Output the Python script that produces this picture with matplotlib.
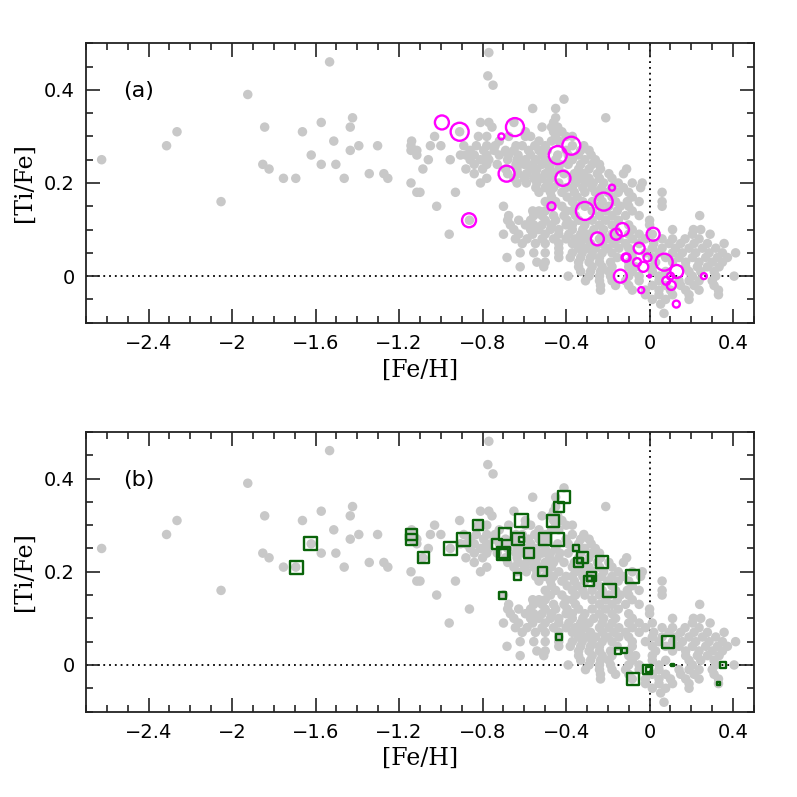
import matplotlib
matplotlib.use("Agg")
import matplotlib.pyplot as plt
from matplotlib.ticker import MultipleLocator, FuncFormatter

# ---------------- comparison sample (grey dots): ([Fe/H], [Ti/Fe]) ----------------
gray_halo = [
    (-2.625, 0.25), (-2.314, 0.28), (-2.264, 0.31), (-2.053, 0.16), (-1.925, 0.39),
    (-1.844, 0.32), (-1.853, 0.24), (-1.823, 0.23), (-1.754, 0.21), (-1.695, 0.21),
    (-1.663, 0.31), (-1.621, 0.26), (-1.573, 0.33), (-1.573, 0.24), (-1.533, 0.46),
    (-1.513, 0.29), (-1.503, 0.24), (-1.463, 0.21), (-1.434, 0.32), (-1.423, 0.34),
    (-1.434, 0.27), (-1.393, 0.28), (-1.343, 0.22), (-1.303, 0.28), (-1.273, 0.22),
    (-1.254, 0.21), (-1.143, 0.28), (-1.143, 0.27), (-1.115, 0.27), (-1.115, 0.26),
    (-1.143, 0.20), (-1.115, 0.18), (-1.100, 0.18), (-1.086, 0.23),
]

gray_disk = [
    (-0.77, 0.48), (-0.775, 0.43), (-0.75, 0.41), (-0.41, 0.38),
    (-0.56, 0.36), (-0.45, 0.36), (-0.45, 0.34), (-0.21, 0.34),
    (-0.81, 0.33), (-0.77, 0.33), (-0.65, 0.33), (-0.46, 0.33),
    (-0.755, 0.32), (-0.515, 0.32), (-0.47, 0.32), (-0.44, 0.32),
    (-0.91, 0.31), (-0.595, 0.31), (-0.46, 0.31), (-0.42, 0.31),
    (-1.03, 0.30), (-0.82, 0.30), (-0.78, 0.30), (-0.675, 0.30), (-0.595, 0.30),
    (-0.57, 0.30), (-0.45, 0.30), (-0.40, 0.30), (-0.37, 0.30),
    (-1.14, 0.29), (-0.72, 0.29), (-0.53, 0.29), (-0.47, 0.29), (-0.435, 0.29),
    (-1.05, 0.28), (-1.00, 0.28), (-0.89, 0.28), (-0.83, 0.28), (-0.78, 0.28),
    (-0.74, 0.28), (-0.64, 0.28), (-0.61, 0.28), (-0.55, 0.28), (-0.50, 0.28),
    (-0.37, 0.28), (-0.315, 0.28),
    (-0.86, 0.27), (-0.795, 0.27), (-0.745, 0.27), (-0.69, 0.27), (-0.65, 0.27),
    (-0.58, 0.27), (-0.53, 0.27), (-0.49, 0.27), (-0.40, 0.27), (-0.33, 0.27),
    (-0.29, 0.27),
    (-0.906, 0.26), (-0.88, 0.26), (-0.84, 0.26), (-0.78, 0.26), (-0.72, 0.26),
    (-0.675, 0.26), (-0.63, 0.26), (-0.57, 0.26), (-0.515, 0.26), (-0.44, 0.26),
    (-0.39, 0.26), (-0.34, 0.26), (-0.28, 0.26),
    (-1.06, 0.25), (-0.955, 0.25), (-0.86, 0.25), (-0.81, 0.25), (-0.77, 0.25),
    (-0.68, 0.25), (-0.635, 0.25), (-0.595, 0.25), (-0.545, 0.25), (-0.50, 0.25),
    (-0.45, 0.25), (-0.37, 0.25), (-0.31, 0.25), (-0.26, 0.25),
    (-0.84, 0.24), (-0.78, 0.24), (-0.73, 0.24), (-0.64, 0.24), (-0.60, 0.24),
    (-0.56, 0.24), (-0.515, 0.24), (-0.475, 0.24), (-0.43, 0.24), (-0.39, 0.24),
    (-0.33, 0.24), (-0.275, 0.24), (-0.24, 0.24),
    (-0.88, 0.23), (-0.80, 0.23), (-0.69, 0.23), (-0.635, 0.23), (-0.57, 0.23),
    (-0.54, 0.23), (-0.48, 0.23), (-0.435, 0.23), (-0.34, 0.23), (-0.29, 0.23),
    (-0.235, 0.23), (-0.11, 0.23),
    (-0.84, 0.22), (-0.68, 0.22), (-0.63, 0.22), (-0.59, 0.22), (-0.545, 0.22),
    (-0.50, 0.22), (-0.46, 0.22), (-0.41, 0.22), (-0.36, 0.22), (-0.315, 0.22),
    (-0.25, 0.22), (-0.195, 0.22), (-0.125, 0.22),
    (-0.78, 0.21), (-0.65, 0.21), (-0.60, 0.21), (-0.555, 0.21), (-0.515, 0.21),
    (-0.47, 0.21), (-0.37, 0.21), (-0.33, 0.21), (-0.29, 0.21), (-0.24, 0.21),
    (-0.18, 0.21),
    (-0.81, 0.20), (-0.635, 0.20), (-0.59, 0.20), (-0.54, 0.20), (-0.49, 0.20),
    (-0.435, 0.20), (-0.355, 0.20), (-0.31, 0.20), (-0.27, 0.20), (-0.22, 0.20),
    (-0.15, 0.20), (-0.083, 0.20), (-0.035, 0.20),
    (-0.545, 0.19), (-0.50, 0.19), (-0.46, 0.19), (-0.40, 0.19), (-0.37, 0.19),
    (-0.32, 0.19), (-0.275, 0.19), (-0.23, 0.19), (-0.18, 0.19), (-0.125, 0.19),
    (-0.043, 0.19),
    (-0.93, 0.18), (-0.53, 0.18), (-0.475, 0.18), (-0.42, 0.18), (-0.36, 0.18),
    (-0.31, 0.18), (-0.26, 0.18), (-0.20, 0.18), (-0.15, 0.18), (-0.10, 0.18),
    (0.06, 0.18),
    (-0.47, 0.17), (-0.395, 0.17), (-0.347, 0.17), (-0.24, 0.17), (-0.18, 0.17),
    (-0.083, 0.17),
    (-0.50, 0.16), (-0.45, 0.16), (-0.37, 0.16), (-0.32, 0.16), (-0.275, 0.16),
    (-0.227, 0.16), (-0.163, 0.16), (-0.107, 0.16), (-0.05, 0.16), (0.06, 0.16),
    (-1.02, 0.15), (-0.70, 0.15), (-0.475, 0.15), (-0.42, 0.15), (-0.355, 0.15),
    (-0.31, 0.15), (-0.24, 0.15), (-0.195, 0.15), (-0.14, 0.15), (-0.10, 0.15),
    (0.06, 0.15),
    (-0.56, 0.14), (-0.53, 0.14), (-0.50, 0.14), (-0.40, 0.14), (-0.37, 0.14),
    (-0.275, 0.14), (-0.21, 0.14), (-0.155, 0.14), (-0.083, 0.14),
    (-0.675, 0.13), (-0.555, 0.13), (-0.515, 0.13), (-0.46, 0.13), (-0.41, 0.13),
    (-0.355, 0.13), (-0.24, 0.13), (-0.18, 0.13), (-0.115, 0.13), (-0.05, 0.13),
    (0.24, 0.13),
    (-0.863, 0.12), (-0.68, 0.12), (-0.627, 0.12), (-0.57, 0.12), (-0.50, 0.12),
    (-0.45, 0.12), (-0.395, 0.12), (-0.34, 0.12), (-0.275, 0.12), (-0.21, 0.12),
    (-0.15, 0.12), (0.00, 0.12),
    (-0.667, 0.11), (-0.595, 0.11), (-0.555, 0.11), (-0.515, 0.11), (-0.47, 0.11),
    (-0.40, 0.11), (-0.37, 0.11), (-0.31, 0.11), (-0.24, 0.11), (-0.18, 0.11),
    (-0.10, 0.11), (0.00, 0.11),
    (-0.65, 0.10), (-0.57, 0.10), (-0.53, 0.10), (-0.475, 0.10), (-0.435, 0.10),
    (-0.37, 0.10), (-0.32, 0.10), (-0.267, 0.10), (-0.22, 0.10), (-0.163, 0.10),
    (-0.083, 0.10), (0.11, 0.10), (0.21, 0.10), (0.245, 0.10),
    (-0.96, 0.09), (-0.70, 0.09), (-0.627, 0.09), (-0.56, 0.09), (-0.50, 0.09),
    (-0.435, 0.09), (-0.387, 0.09), (-0.33, 0.09), (-0.29, 0.09), (-0.227, 0.09),
    (-0.18, 0.09), (-0.10, 0.09), (-0.05, 0.09), (0.013, 0.09), (0.205, 0.09),
    (0.29, 0.09),
    (-0.643, 0.08), (-0.587, 0.08), (-0.515, 0.08), (-0.46, 0.08), (-0.40, 0.08),
    (-0.355, 0.08), (-0.31, 0.08), (-0.24, 0.08), (-0.195, 0.08), (-0.147, 0.08),
    (-0.083, 0.08), (-0.02, 0.08), (0.06, 0.08), (0.11, 0.08), (0.17, 0.08),
    (0.237, 0.08),
    (-0.61, 0.07), (-0.547, 0.07), (-0.50, 0.07), (-0.435, 0.07), (-0.37, 0.07),
    (-0.33, 0.07), (-0.283, 0.07), (-0.227, 0.07), (-0.171, 0.07), (-0.115, 0.07),
    (-0.05, 0.07), (0.02, 0.07), (0.093, 0.07), (0.149, 0.07), (0.213, 0.07),
    (0.277, 0.07), (0.357, 0.07),
    (-0.435, 0.06), (-0.34, 0.06), (-0.30, 0.06), (-0.26, 0.06), (-0.203, 0.06),
    (-0.147, 0.06), (-0.10, 0.06), (0.013, 0.06), (0.06, 0.06), (0.125, 0.06),
    (0.189, 0.06), (0.253, 0.06), (0.317, 0.06),
    (-0.62, 0.05), (-0.555, 0.05), (-0.50, 0.05), (-0.435, 0.05), (-0.37, 0.05),
    (-0.323, 0.05), (-0.275, 0.05), (-0.227, 0.05), (-0.18, 0.05), (-0.083, 0.05),
    (-0.02, 0.05), (0.045, 0.05), (0.11, 0.05), (0.157, 0.05), (0.221, 0.05),
    (0.285, 0.05), (0.349, 0.05), (0.412, 0.05),
    (-0.683, 0.04), (-0.435, 0.04), (-0.38, 0.04), (-0.33, 0.04), (-0.283, 0.04),
    (-0.24, 0.04), (-0.155, 0.04), (-0.083, 0.04), (0.013, 0.04), (0.077, 0.04),
    (0.141, 0.04), (0.205, 0.04), (0.269, 0.04), (0.325, 0.04), (0.373, 0.04),
    (-0.54, 0.03), (-0.50, 0.03), (-0.34, 0.03), (-0.29, 0.03), (-0.24, 0.03),
    (-0.187, 0.03), (-0.10, 0.03), (0.029, 0.03), (0.11, 0.03), (0.173, 0.03),
    (0.237, 0.03), (0.30, 0.03), (0.349, 0.03),
    (-0.62, 0.02), (-0.507, 0.02), (-0.34, 0.02), (-0.275, 0.02), (-0.227, 0.02),
    (-0.18, 0.02), (-0.10, 0.02), (-0.067, 0.02), (0.013, 0.02), (0.173, 0.02),
    (0.229, 0.02), (0.277, 0.02), (0.333, 0.02),
    (-0.33, 0.01), (-0.283, 0.01), (-0.235, 0.01), (-0.195, 0.01), (-0.083, 0.01),
    (0.013, 0.01), (0.077, 0.01), (0.189, 0.01), (0.245, 0.01), (0.309, 0.01),
    (-0.39, 0.00), (-0.29, 0.00), (-0.24, 0.00), (-0.187, 0.00), (-0.10, 0.00),
    (-0.05, 0.00), (0.045, 0.00), (0.205, 0.00), (0.317, 0.00), (0.405, 0.00),
    (-0.307, -0.01), (-0.24, -0.01), (-0.18, -0.01), (-0.115, -0.01), (-0.05, -0.01),
    (0.045, -0.01), (0.141, -0.01), (0.189, -0.01), (0.237, -0.01), (0.30, -0.01),
    (-0.235, -0.02), (-0.163, -0.02), (-0.10, -0.02), (0.013, -0.02), (0.077, -0.02),
    (0.149, -0.02), (0.213, -0.02), (0.309, -0.02),
    (-0.235, -0.03), (-0.083, -0.03), (-0.02, -0.03), (0.045, -0.03), (0.10, -0.03),
    (0.173, -0.03), (0.237, -0.03), (0.33, -0.03),
    (-0.02, -0.04), (0.045, -0.04), (0.11, -0.04), (0.189, -0.04), (0.33, -0.04),
    (0.013, -0.05), (0.077, -0.05), (0.189, -0.05),
    (0.053, -0.06), (0.069, -0.08),
]

# ---------------- programme stars, panel (a): open circles ----------------
mag_feh = [-0.995, -0.91, -0.645, -0.71, -0.44, -0.375, -0.685, -0.415, -0.18,
           -0.47, -0.31, -0.22, -0.865, -0.13, -0.16, -0.25, 0.017, -0.05,
           -0.11, -0.115, -0.01, -0.06, -0.03, 0.07, 0.13, -0.14, 0.0, 0.26,
           0.08, 0.10, 0.104, -0.04, 0.128]
mag_tife = [0.33, 0.31, 0.32, 0.30, 0.26, 0.28, 0.22, 0.21, 0.19,
            0.15, 0.14, 0.16, 0.12, 0.10, 0.09, 0.08, 0.09, 0.06,
            0.04, 0.04, 0.04, 0.03, 0.02, 0.03, 0.01, 0.00, 0.00, 0.00,
            -0.01, 0.00, -0.02, -0.03, -0.06]
mag_weight = [14, 18, 18, 6, 18, 18, 16, 15, 6,
              8, 18, 18, 14, 13, 11, 13, 13, 11,
              8, 8, 8, 8, 10, 17, 13, 13, 2.7, 6,
              8, 7, 9, 6, 7]

# ---------------- programme stars, panel (b): open squares ----------------
grn_feh = [-1.623, -1.693, -1.142, -1.142, -1.083, -0.953, -0.891, -0.823,
           -0.732, -0.691, -0.70, -0.70, -0.704, -0.635, -0.411, -0.432,
           -0.613, -0.462, -0.632, -0.614, -0.50, -0.443, -0.58, -0.352,
           -0.32, -0.34, -0.335, -0.23, -0.512, -0.278, -0.291, -0.288,
           -0.08, -0.19, -0.432, 0.09, -0.15, -0.122, -0.008, -0.003,
           -0.08, 0.11, 0.35, 0.33]
grn_tife = [0.26, 0.21, 0.28, 0.27, 0.23, 0.25, 0.27, 0.30,
            0.26, 0.28, 0.24, 0.24, 0.15, 0.19, 0.36, 0.34,
            0.31, 0.31, 0.27, 0.27, 0.27, 0.27, 0.24, 0.25,
            0.23, 0.22, 0.225, 0.22, 0.20, 0.19, 0.18, 0.185,
            0.19, 0.16, 0.06, 0.05, 0.03, 0.03, -0.01, -0.01,
            -0.03, 0.00, 0.00, -0.04]
grn_weight = [13, 13, 11, 11, 11, 13, 13, 10,
              10, 12, 13, 9, 7, 7, 12, 10,
              13, 12, 12, 5, 12, 13, 10, 6,
              11, 9, 5, 12, 9, 9, 10, 5,
              13, 13, 6, 12, 6, 5, 9, 5,
              12, 2.5, 6, 2.5]

xticks = [-2.4, -2.0, -1.6, -1.2, -0.8, -0.4, 0.0, 0.4]
yticks = [0.0, 0.2, 0.4]

# ---------------- drawing ----------------
GRAY = "#c8c8c8"
MAG = "#ff00ff"
GRN = "#0a640a"
PX2PT = 72.0 / 100.0

fig = plt.figure(figsize=(7.97, 7.97), dpi=100)
ax_a = fig.add_axes([0.1079, 0.5951, 0.8381, 0.3506])
ax_b = fig.add_axes([0.1079, 0.1072, 0.8381, 0.3508])

gx = [p[0] for p in gray_halo + gray_disk]
gy = [p[1] for p in gray_halo + gray_disk]


def fmt(v, pos):
    s = "%g" % v
    if s == "-0":
        s = "0"
    return s.replace("-", "\u2212")


for ax, label in ((ax_a, "(a)"), (ax_b, "(b)")):
    ax.set_xlim(-2.7, 0.5)
    ax.set_ylim(-0.1, 0.5)
    ax.axhline(0, color="black", lw=1.3, ls=(0, (1, 2.2)), zorder=1)
    ax.axvline(0, color="black", lw=1.3, ls=(0, (1, 2.2)), zorder=1)
    ax.scatter(gx, gy, s=(9.5 * PX2PT) ** 2, c=GRAY, edgecolors="none", zorder=2)
    ax.xaxis.set_major_locator(plt.FixedLocator(xticks))
    ax.xaxis.set_minor_locator(MultipleLocator(0.1))
    ax.yaxis.set_major_locator(plt.FixedLocator(yticks))
    ax.yaxis.set_minor_locator(MultipleLocator(0.05))
    ax.xaxis.set_major_formatter(FuncFormatter(fmt))
    ax.yaxis.set_major_formatter(FuncFormatter(fmt))
    ax.tick_params(which="both", direction="in", top=True, right=True,
                   width=1.2, color="#222222")
    ax.tick_params(which="major", length=10, labelsize=14, pad=8)
    ax.tick_params(which="minor", length=5)
    for lab in ax.get_xticklabels() + ax.get_yticklabels():
        lab.set_family("DejaVu Sans")
    for sp in ax.spines.values():
        sp.set_linewidth(1.3)
        sp.set_color("#222222")
    ax.set_xlabel("[Fe/H]", family="DejaVu Serif", fontsize=17, labelpad=4)
    ax.set_ylabel("[Ti/Fe]", family="DejaVu Serif", fontsize=17, labelpad=6)
    ax.text(0.079, 0.83, label, transform=ax.transAxes, family="DejaVu Sans",
            fontsize=16, ha="center", va="center")

ax_a.scatter(mag_feh, mag_tife, s=[(w * PX2PT) ** 2 for w in mag_weight],
             facecolors="none", edgecolors=MAG, linewidths=1.7, zorder=3)
ax_b.scatter(grn_feh, grn_tife, s=[(w * PX2PT) ** 2 for w in grn_weight],
             marker="s", facecolors="none", edgecolors=GRN, linewidths=1.7,
             zorder=3)

fig.savefig("out.png", dpi=100)
